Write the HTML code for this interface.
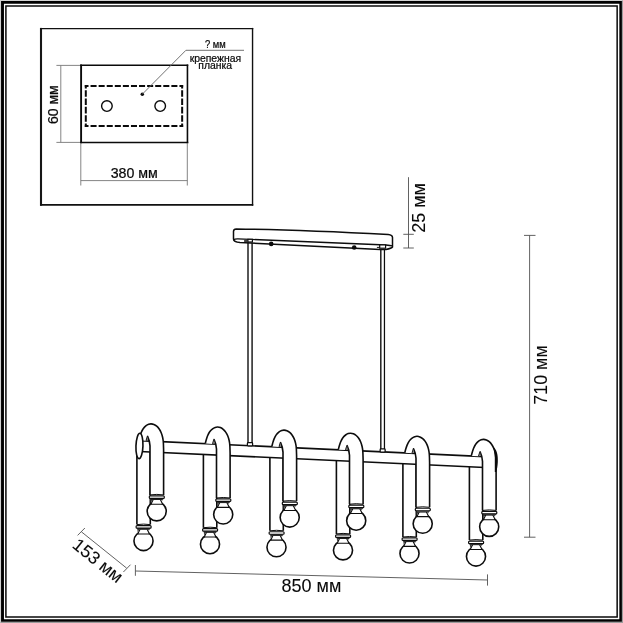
<!DOCTYPE html>
<html lang="ru"><head><meta charset="utf-8"><title>Схема светильника</title>
<style>
html,body{margin:0;padding:0;background:#fff;}
body{width:623px;height:623px;overflow:hidden;}
svg{display:block;will-change:transform;transform:translateZ(0);}
svg text{font-family:"Liberation Sans",sans-serif;fill:#0a0a0a;stroke:#0a0a0a;stroke-width:0.08px;}
svg text.s{stroke-width:0.22px;}
</style></head><body>
<svg width="623" height="623" viewBox="0 0 623 623">
<rect x="0" y="0" width="623" height="623" fill="#fff"/>
<path d="M0,0 H623 V1.1 H1.1 V623 H0 Z" fill="#d2d2d2"/>
<path d="M623,623 H0.5 V621.8 H621.9 V0.5 H623 Z" fill="#9c9c9c"/>
<path d="M1.05,1.05 H621.9 V621.85 H1.05 Z M3.95,3.85 V619.2 H619.35 V3.85 Z" fill="#000" fill-rule="evenodd"/>
<path d="M5.15,5.15 H617.9 V617.75 H5.15 Z M6.65,6.65 V616.35 H616.4 V6.65 Z" fill="#0a0a0a" fill-rule="evenodd"/>
<path d="M41,27.9 V205.7" stroke="#161616" stroke-width="2.1" fill="none"/>
<path d="M40,28.55 H253.25" stroke="#111" stroke-width="1.25" fill="none"/>
<path d="M252.55,27.9 V205.7" stroke="#111" stroke-width="1.4" fill="none"/>
<path d="M40,204.9 H253.25" stroke="#111" stroke-width="1.6" fill="none"/>
<path d="M81.1,64.5 V143.25" stroke="#0a0a0a" stroke-width="1.9" fill="none"/>
<path d="M80.15,65.2 H188.25" stroke="#0a0a0a" stroke-width="1.4" fill="none"/>
<path d="M187.45,64.5 V143.25" stroke="#0a0a0a" stroke-width="1.6" fill="none"/>
<path d="M80.15,142.55 H188.25" stroke="#0a0a0a" stroke-width="1.4" fill="none"/>
<path d="M84.80,86.00 L183.15,86.00" stroke="#0a0a0a" stroke-width="2.0" fill="none" stroke-dasharray="6.032 2.050" stroke-dashoffset="2.332"/>
<path d="M84.80,125.90 L183.15,125.90" stroke="#0a0a0a" stroke-width="2.0" fill="none" stroke-dasharray="6.032 2.050" stroke-dashoffset="2.332"/>
<path d="M85.80,85.00 L85.80,126.90" stroke="#0a0a0a" stroke-width="2.0" fill="none" stroke-dasharray="6.525 1.800" stroke-dashoffset="3.125"/>
<path d="M182.15,85.00 L182.15,126.90" stroke="#0a0a0a" stroke-width="2.0" fill="none" stroke-dasharray="6.525 1.800" stroke-dashoffset="3.125"/>
<circle cx="106.9" cy="106.1" r="5.3" fill="#fff" stroke="#0a0a0a" stroke-width="1.4"/>
<circle cx="160.2" cy="106.1" r="5.3" fill="#fff" stroke="#0a0a0a" stroke-width="1.4"/>
<circle cx="142.3" cy="94.2" r="1.75" fill="#0a0a0a"/>
<path d="M142.3,94.2 L185.9,50.3 L244,50.3" fill="none" stroke="#6a6a6a" stroke-width="0.95"/>
<path d="M60.8,65.4 V142.4 M56.4,65.4 H80 M56.4,142.4 H80" fill="none" stroke="#777" stroke-width="0.9"/>
<path d="M80.8,143 V185.5 M187.3,143 V185.5 M80.8,180.6 H187.3" fill="none" stroke="#777" stroke-width="0.9"/>
<text x="134.2" y="177.6" font-size="14.2" class="s" text-anchor="middle">380 мм</text>
<text transform="translate(58.4,104.7) rotate(-90)" font-size="14" class="s" text-anchor="middle">60 мм</text>
<text transform="translate(215.4,47.9) scale(0.94,1.06)" font-size="10" class="s" text-anchor="middle">? мм</text>
<text x="215.4" y="61.8" font-size="10.4" class="s" text-anchor="middle">крепежная</text>
<text x="215.2" y="68.6" font-size="10.4" class="s" text-anchor="middle">планка</text>
<path d="M248,241 V445 M252.1,241 V445" stroke="#2e2e2e" stroke-width="1.6" fill="none"/>
<path d="M380.8,248 V451.5" stroke="#202020" stroke-width="1.5" fill="none"/>
<path d="M384.45,248 V451.5" stroke="#0c0c0c" stroke-width="1.25" fill="none"/>
<path d="M236.2,228.9 Q300,229.7 388.2,234.5 Q392.5,234.9 392.5,237.6 L392.5,247.0 Q391.6,248.4 386.0,249.4 L380,249.4 L240,242.5 Q233.5,242.0 233.5,239.0 L233.5,231.4 Q233.6,228.9 236.2,228.9 Z" fill="#fff" stroke="#0d0d0d" stroke-width="1.5" stroke-linejoin="round"/>
<path d="M233.6,239.6 Q235,238.8 238,238.9 L386,245.0 Q390.5,245.4 392.4,245.9" fill="none" stroke="#0d0d0d" stroke-width="1.4"/>
<circle cx="271.2" cy="243.9" r="2.3" fill="#0a0a0a"/>
<circle cx="354.2" cy="247.5" r="2.3" fill="#0a0a0a"/>
<rect x="247.9" y="239.3" width="4.5" height="2.7" fill="#fff" stroke="#0d0d0d" stroke-width="1.2"/>
<path d="M244.1,241.0 H247.6" stroke="#111" stroke-width="1.6"/>
<rect x="379.7" y="244.9" width="5.9" height="3.3" fill="#fff" stroke="#0d0d0d" stroke-width="1.2"/>
<path d="M376.9,247.4 H379.6" stroke="#111" stroke-width="1.0"/>
<g transform="translate(163.60,441.70)"><path d="M-26.70,0 V82.90 H-13.30 V0 Z" fill="#fff" stroke="none"/><path d="M-26.70,0 V82.90 M-13.30,0 V82.90" fill="none" stroke="#0d0d0d" stroke-width="1.60"/><path d="M-26.70,82.90 Q-20.00,81.90 -13.30,82.90" fill="none" stroke="#0d0d0d" stroke-width="1.0"/><circle cx="-20.10" cy="99.35" r="9.55" fill="#fff" stroke="#0d0d0d" stroke-width="1.60"/><path d="M-23.40,87.20 L-16.60,87.20 L-14.10,92.25 L-25.90,92.25 Z" fill="#fff" stroke="#0d0d0d" stroke-width="1.1" stroke-linejoin="round"/><path d="M-26.30,87.40 L-24.10,87.40 L-25.90,91.30 Z" fill="#4a4a4a"/><path d="M-14.00,87.40 L-15.90,87.40 L-14.70,89.30 Z" fill="#808080"/><rect x="-26.20" y="86.50" width="12.4" height="1.0" rx="0.3" fill="#fff" stroke="#0d0d0d" stroke-width="0.9"/><rect x="-27.50" y="83.85" width="15.0" height="2.5" rx="0.9" fill="#fff" stroke="#0d0d0d" stroke-width="1.2"/></g>
<g transform="translate(230.10,444.80)"><path d="M-26.70,0 V82.90 H-13.30 V0 Z" fill="#fff" stroke="none"/><path d="M-26.70,0 V82.90 M-13.30,0 V82.90" fill="none" stroke="#0d0d0d" stroke-width="1.60"/><path d="M-26.70,82.90 Q-20.00,81.90 -13.30,82.90" fill="none" stroke="#0d0d0d" stroke-width="1.0"/><circle cx="-20.10" cy="99.35" r="9.55" fill="#fff" stroke="#0d0d0d" stroke-width="1.60"/><path d="M-23.40,87.20 L-16.60,87.20 L-14.10,92.25 L-25.90,92.25 Z" fill="#fff" stroke="#0d0d0d" stroke-width="1.1" stroke-linejoin="round"/><path d="M-26.30,87.40 L-24.10,87.40 L-25.90,91.30 Z" fill="#4a4a4a"/><path d="M-14.00,87.40 L-15.90,87.40 L-14.70,89.30 Z" fill="#808080"/><rect x="-26.20" y="86.50" width="12.4" height="1.0" rx="0.3" fill="#fff" stroke="#0d0d0d" stroke-width="0.9"/><rect x="-27.50" y="83.85" width="15.0" height="2.5" rx="0.9" fill="#fff" stroke="#0d0d0d" stroke-width="1.2"/></g>
<g transform="translate(296.60,447.90)"><path d="M-26.70,0 V82.90 H-13.30 V0 Z" fill="#fff" stroke="none"/><path d="M-26.70,0 V82.90 M-13.30,0 V82.90" fill="none" stroke="#0d0d0d" stroke-width="1.60"/><path d="M-26.70,82.90 Q-20.00,81.90 -13.30,82.90" fill="none" stroke="#0d0d0d" stroke-width="1.0"/><circle cx="-20.10" cy="99.35" r="9.55" fill="#fff" stroke="#0d0d0d" stroke-width="1.60"/><path d="M-23.40,87.20 L-16.60,87.20 L-14.10,92.25 L-25.90,92.25 Z" fill="#fff" stroke="#0d0d0d" stroke-width="1.1" stroke-linejoin="round"/><path d="M-26.30,87.40 L-24.10,87.40 L-25.90,91.30 Z" fill="#4a4a4a"/><path d="M-14.00,87.40 L-15.90,87.40 L-14.70,89.30 Z" fill="#808080"/><rect x="-26.20" y="86.50" width="12.4" height="1.0" rx="0.3" fill="#fff" stroke="#0d0d0d" stroke-width="0.9"/><rect x="-27.50" y="83.85" width="15.0" height="2.5" rx="0.9" fill="#fff" stroke="#0d0d0d" stroke-width="1.2"/></g>
<g transform="translate(363.10,451.00)"><path d="M-26.70,0 V82.90 H-13.30 V0 Z" fill="#fff" stroke="none"/><path d="M-26.70,0 V82.90 M-13.30,0 V82.90" fill="none" stroke="#0d0d0d" stroke-width="1.60"/><path d="M-26.70,82.90 Q-20.00,81.90 -13.30,82.90" fill="none" stroke="#0d0d0d" stroke-width="1.0"/><circle cx="-20.10" cy="99.35" r="9.55" fill="#fff" stroke="#0d0d0d" stroke-width="1.60"/><path d="M-23.40,87.20 L-16.60,87.20 L-14.10,92.25 L-25.90,92.25 Z" fill="#fff" stroke="#0d0d0d" stroke-width="1.1" stroke-linejoin="round"/><path d="M-26.30,87.40 L-24.10,87.40 L-25.90,91.30 Z" fill="#4a4a4a"/><path d="M-14.00,87.40 L-15.90,87.40 L-14.70,89.30 Z" fill="#808080"/><rect x="-26.20" y="86.50" width="12.4" height="1.0" rx="0.3" fill="#fff" stroke="#0d0d0d" stroke-width="0.9"/><rect x="-27.50" y="83.85" width="15.0" height="2.5" rx="0.9" fill="#fff" stroke="#0d0d0d" stroke-width="1.2"/></g>
<g transform="translate(429.60,454.10)"><path d="M-26.70,0 V82.90 H-13.30 V0 Z" fill="#fff" stroke="none"/><path d="M-26.70,0 V82.90 M-13.30,0 V82.90" fill="none" stroke="#0d0d0d" stroke-width="1.60"/><path d="M-26.70,82.90 Q-20.00,81.90 -13.30,82.90" fill="none" stroke="#0d0d0d" stroke-width="1.0"/><circle cx="-20.10" cy="99.35" r="9.55" fill="#fff" stroke="#0d0d0d" stroke-width="1.60"/><path d="M-23.40,87.20 L-16.60,87.20 L-14.10,92.25 L-25.90,92.25 Z" fill="#fff" stroke="#0d0d0d" stroke-width="1.1" stroke-linejoin="round"/><path d="M-26.30,87.40 L-24.10,87.40 L-25.90,91.30 Z" fill="#4a4a4a"/><path d="M-14.00,87.40 L-15.90,87.40 L-14.70,89.30 Z" fill="#808080"/><rect x="-26.20" y="86.50" width="12.4" height="1.0" rx="0.3" fill="#fff" stroke="#0d0d0d" stroke-width="0.9"/><rect x="-27.50" y="83.85" width="15.0" height="2.5" rx="0.9" fill="#fff" stroke="#0d0d0d" stroke-width="1.2"/></g>
<g transform="translate(496.10,457.20)"><path d="M-26.70,0 V82.90 H-13.30 V0 Z" fill="#fff" stroke="none"/><path d="M-26.70,0 V82.90 M-13.30,0 V82.90" fill="none" stroke="#0d0d0d" stroke-width="1.60"/><path d="M-26.70,82.90 Q-20.00,81.90 -13.30,82.90" fill="none" stroke="#0d0d0d" stroke-width="1.0"/><circle cx="-20.10" cy="99.35" r="9.55" fill="#fff" stroke="#0d0d0d" stroke-width="1.60"/><path d="M-23.40,87.20 L-16.60,87.20 L-14.10,92.25 L-25.90,92.25 Z" fill="#fff" stroke="#0d0d0d" stroke-width="1.1" stroke-linejoin="round"/><path d="M-26.30,87.40 L-24.10,87.40 L-25.90,91.30 Z" fill="#4a4a4a"/><path d="M-14.00,87.40 L-15.90,87.40 L-14.70,89.30 Z" fill="#808080"/><rect x="-26.20" y="86.50" width="12.4" height="1.0" rx="0.3" fill="#fff" stroke="#0d0d0d" stroke-width="0.9"/><rect x="-27.50" y="83.85" width="15.0" height="2.5" rx="0.9" fill="#fff" stroke="#0d0d0d" stroke-width="1.2"/></g>
<path d="M139.50,440.58 L495.50,457.17 L495.50,468.07 L139.50,451.48 Z" fill="#fff" stroke="none"/><path d="M139.50,440.58 L495.50,457.17 M139.50,451.48 L495.50,468.07" fill="none" stroke="#0d0d0d" stroke-width="1.60"/>
<rect x="247.4" y="442.7" width="5.2" height="3.2" rx="0.8" fill="#fff" stroke="#0d0d0d" stroke-width="1.25"/>
<rect x="380.15" y="448.9" width="5.0" height="3.2" rx="0.8" fill="#fff" stroke="#0d0d0d" stroke-width="1.25"/>
<g transform="translate(163.60,441.70)"><path d="M-24.80,-1.30 C-24.67,-1.83 -24.38,-3.22 -24.00,-4.50 C-23.62,-5.78 -23.10,-7.58 -22.50,-9.00 C-21.90,-10.42 -21.23,-11.83 -20.40,-13.00 C-19.57,-14.17 -18.42,-15.27 -17.50,-16.00 C-16.58,-16.73 -15.73,-17.10 -14.90,-17.40 C-14.07,-17.70 -13.37,-17.83 -12.50,-17.80 C-11.63,-17.77 -10.63,-17.58 -9.70,-17.20 C-8.77,-16.82 -7.78,-16.25 -6.90,-15.50 C-6.02,-14.75 -5.15,-13.78 -4.40,-12.70 C-3.65,-11.62 -2.97,-10.37 -2.40,-9.00 C-1.83,-7.63 -1.35,-6.02 -1.00,-4.50 C-0.65,-2.98 -0.47,-1.98 -0.30,0.10 C-0.13,2.18 -0.05,6.68 0.00,8.00 L0,53.20 Q-6.80,52.20 -13.60,53.20 L-13.60,4.2 C-13.80,0 -14.9,-3 -16.0,-5.3 L-17.3,-0.9 Z" fill="#fff" stroke="none"/><path d="M-24.80,-1.30 C-24.67,-1.83 -24.38,-3.22 -24.00,-4.50 C-23.62,-5.78 -23.10,-7.58 -22.50,-9.00 C-21.90,-10.42 -21.23,-11.83 -20.40,-13.00 C-19.57,-14.17 -18.42,-15.27 -17.50,-16.00 C-16.58,-16.73 -15.73,-17.10 -14.90,-17.40 C-14.07,-17.70 -13.37,-17.83 -12.50,-17.80 C-11.63,-17.77 -10.63,-17.58 -9.70,-17.20 C-8.77,-16.82 -7.78,-16.25 -6.90,-15.50 C-6.02,-14.75 -5.15,-13.78 -4.40,-12.70 C-3.65,-11.62 -2.97,-10.37 -2.40,-9.00 C-1.83,-7.63 -1.35,-6.02 -1.00,-4.50 C-0.65,-2.98 -0.47,-1.98 -0.30,0.10 C-0.13,2.18 -0.05,6.68 0.00,8.00 L0,53.20 M-13.60,53.20 L-13.60,4.2 C-13.80,0 -14.9,-3 -16.0,-5.3 L-17.3,-0.9" fill="none" stroke="#0d0d0d" stroke-width="1.60" stroke-linejoin="round"/><path d="M0,53.20 Q-6.80,52.20 -13.60,53.20" fill="none" stroke="#0d0d0d" stroke-width="1.0"/><path d="M-17.2,-1.0 L-16.0,-5.2 L-15.6,-1.2 Z" fill="#8a8a8a"/><circle cx="-6.90" cy="69.65" r="9.55" fill="#fff" stroke="#0d0d0d" stroke-width="1.60"/><path d="M-10.20,57.50 L-3.40,57.50 L-0.90,62.55 L-12.70,62.55 Z" fill="#fff" stroke="#0d0d0d" stroke-width="1.1" stroke-linejoin="round"/><path d="M-13.10,57.70 L-10.90,57.70 L-12.70,61.60 Z" fill="#4a4a4a"/><path d="M-0.80,57.70 L-2.70,57.70 L-1.50,59.60 Z" fill="#808080"/><rect x="-13.00" y="56.80" width="12.4" height="1.0" rx="0.3" fill="#fff" stroke="#0d0d0d" stroke-width="0.9"/><rect x="-14.30" y="54.15" width="15.0" height="2.5" rx="0.9" fill="#fff" stroke="#0d0d0d" stroke-width="1.2"/></g>
<g transform="translate(230.10,444.80)"><path d="M-24.80,-1.30 C-24.67,-1.83 -24.38,-3.22 -24.00,-4.50 C-23.62,-5.78 -23.10,-7.58 -22.50,-9.00 C-21.90,-10.42 -21.23,-11.83 -20.40,-13.00 C-19.57,-14.17 -18.42,-15.27 -17.50,-16.00 C-16.58,-16.73 -15.73,-17.10 -14.90,-17.40 C-14.07,-17.70 -13.37,-17.83 -12.50,-17.80 C-11.63,-17.77 -10.63,-17.58 -9.70,-17.20 C-8.77,-16.82 -7.78,-16.25 -6.90,-15.50 C-6.02,-14.75 -5.15,-13.78 -4.40,-12.70 C-3.65,-11.62 -2.97,-10.37 -2.40,-9.00 C-1.83,-7.63 -1.35,-6.02 -1.00,-4.50 C-0.65,-2.98 -0.47,-1.98 -0.30,0.10 C-0.13,2.18 -0.05,6.68 0.00,8.00 L0,53.20 Q-6.80,52.20 -13.60,53.20 L-13.60,4.2 C-13.80,0 -14.9,-3 -16.0,-5.3 L-17.3,-0.9 Z" fill="#fff" stroke="none"/><path d="M-24.80,-1.30 C-24.67,-1.83 -24.38,-3.22 -24.00,-4.50 C-23.62,-5.78 -23.10,-7.58 -22.50,-9.00 C-21.90,-10.42 -21.23,-11.83 -20.40,-13.00 C-19.57,-14.17 -18.42,-15.27 -17.50,-16.00 C-16.58,-16.73 -15.73,-17.10 -14.90,-17.40 C-14.07,-17.70 -13.37,-17.83 -12.50,-17.80 C-11.63,-17.77 -10.63,-17.58 -9.70,-17.20 C-8.77,-16.82 -7.78,-16.25 -6.90,-15.50 C-6.02,-14.75 -5.15,-13.78 -4.40,-12.70 C-3.65,-11.62 -2.97,-10.37 -2.40,-9.00 C-1.83,-7.63 -1.35,-6.02 -1.00,-4.50 C-0.65,-2.98 -0.47,-1.98 -0.30,0.10 C-0.13,2.18 -0.05,6.68 0.00,8.00 L0,53.20 M-13.60,53.20 L-13.60,4.2 C-13.80,0 -14.9,-3 -16.0,-5.3 L-17.3,-0.9" fill="none" stroke="#0d0d0d" stroke-width="1.60" stroke-linejoin="round"/><path d="M0,53.20 Q-6.80,52.20 -13.60,53.20" fill="none" stroke="#0d0d0d" stroke-width="1.0"/><path d="M-17.2,-1.0 L-16.0,-5.2 L-15.6,-1.2 Z" fill="#8a8a8a"/><circle cx="-6.90" cy="69.65" r="9.55" fill="#fff" stroke="#0d0d0d" stroke-width="1.60"/><path d="M-10.20,57.50 L-3.40,57.50 L-0.90,62.55 L-12.70,62.55 Z" fill="#fff" stroke="#0d0d0d" stroke-width="1.1" stroke-linejoin="round"/><path d="M-13.10,57.70 L-10.90,57.70 L-12.70,61.60 Z" fill="#4a4a4a"/><path d="M-0.80,57.70 L-2.70,57.70 L-1.50,59.60 Z" fill="#808080"/><rect x="-13.00" y="56.80" width="12.4" height="1.0" rx="0.3" fill="#fff" stroke="#0d0d0d" stroke-width="0.9"/><rect x="-14.30" y="54.15" width="15.0" height="2.5" rx="0.9" fill="#fff" stroke="#0d0d0d" stroke-width="1.2"/></g>
<g transform="translate(296.60,447.90)"><path d="M-24.80,-1.30 C-24.67,-1.83 -24.38,-3.22 -24.00,-4.50 C-23.62,-5.78 -23.10,-7.58 -22.50,-9.00 C-21.90,-10.42 -21.23,-11.83 -20.40,-13.00 C-19.57,-14.17 -18.42,-15.27 -17.50,-16.00 C-16.58,-16.73 -15.73,-17.10 -14.90,-17.40 C-14.07,-17.70 -13.37,-17.83 -12.50,-17.80 C-11.63,-17.77 -10.63,-17.58 -9.70,-17.20 C-8.77,-16.82 -7.78,-16.25 -6.90,-15.50 C-6.02,-14.75 -5.15,-13.78 -4.40,-12.70 C-3.65,-11.62 -2.97,-10.37 -2.40,-9.00 C-1.83,-7.63 -1.35,-6.02 -1.00,-4.50 C-0.65,-2.98 -0.47,-1.98 -0.30,0.10 C-0.13,2.18 -0.05,6.68 0.00,8.00 L0,53.20 Q-6.80,52.20 -13.60,53.20 L-13.60,4.2 C-13.80,0 -14.9,-3 -16.0,-5.3 L-17.3,-0.9 Z" fill="#fff" stroke="none"/><path d="M-24.80,-1.30 C-24.67,-1.83 -24.38,-3.22 -24.00,-4.50 C-23.62,-5.78 -23.10,-7.58 -22.50,-9.00 C-21.90,-10.42 -21.23,-11.83 -20.40,-13.00 C-19.57,-14.17 -18.42,-15.27 -17.50,-16.00 C-16.58,-16.73 -15.73,-17.10 -14.90,-17.40 C-14.07,-17.70 -13.37,-17.83 -12.50,-17.80 C-11.63,-17.77 -10.63,-17.58 -9.70,-17.20 C-8.77,-16.82 -7.78,-16.25 -6.90,-15.50 C-6.02,-14.75 -5.15,-13.78 -4.40,-12.70 C-3.65,-11.62 -2.97,-10.37 -2.40,-9.00 C-1.83,-7.63 -1.35,-6.02 -1.00,-4.50 C-0.65,-2.98 -0.47,-1.98 -0.30,0.10 C-0.13,2.18 -0.05,6.68 0.00,8.00 L0,53.20 M-13.60,53.20 L-13.60,4.2 C-13.80,0 -14.9,-3 -16.0,-5.3 L-17.3,-0.9" fill="none" stroke="#0d0d0d" stroke-width="1.60" stroke-linejoin="round"/><path d="M0,53.20 Q-6.80,52.20 -13.60,53.20" fill="none" stroke="#0d0d0d" stroke-width="1.0"/><path d="M-17.2,-1.0 L-16.0,-5.2 L-15.6,-1.2 Z" fill="#8a8a8a"/><circle cx="-6.90" cy="69.65" r="9.55" fill="#fff" stroke="#0d0d0d" stroke-width="1.60"/><path d="M-10.20,57.50 L-3.40,57.50 L-0.90,62.55 L-12.70,62.55 Z" fill="#fff" stroke="#0d0d0d" stroke-width="1.1" stroke-linejoin="round"/><path d="M-13.10,57.70 L-10.90,57.70 L-12.70,61.60 Z" fill="#4a4a4a"/><path d="M-0.80,57.70 L-2.70,57.70 L-1.50,59.60 Z" fill="#808080"/><rect x="-13.00" y="56.80" width="12.4" height="1.0" rx="0.3" fill="#fff" stroke="#0d0d0d" stroke-width="0.9"/><rect x="-14.30" y="54.15" width="15.0" height="2.5" rx="0.9" fill="#fff" stroke="#0d0d0d" stroke-width="1.2"/></g>
<g transform="translate(363.10,451.00)"><path d="M-24.80,-1.30 C-24.67,-1.83 -24.38,-3.22 -24.00,-4.50 C-23.62,-5.78 -23.10,-7.58 -22.50,-9.00 C-21.90,-10.42 -21.23,-11.83 -20.40,-13.00 C-19.57,-14.17 -18.42,-15.27 -17.50,-16.00 C-16.58,-16.73 -15.73,-17.10 -14.90,-17.40 C-14.07,-17.70 -13.37,-17.83 -12.50,-17.80 C-11.63,-17.77 -10.63,-17.58 -9.70,-17.20 C-8.77,-16.82 -7.78,-16.25 -6.90,-15.50 C-6.02,-14.75 -5.15,-13.78 -4.40,-12.70 C-3.65,-11.62 -2.97,-10.37 -2.40,-9.00 C-1.83,-7.63 -1.35,-6.02 -1.00,-4.50 C-0.65,-2.98 -0.47,-1.98 -0.30,0.10 C-0.13,2.18 -0.05,6.68 0.00,8.00 L0,53.20 Q-6.80,52.20 -13.60,53.20 L-13.60,4.2 C-13.80,0 -14.9,-3 -16.0,-5.3 L-17.3,-0.9 Z" fill="#fff" stroke="none"/><path d="M-24.80,-1.30 C-24.67,-1.83 -24.38,-3.22 -24.00,-4.50 C-23.62,-5.78 -23.10,-7.58 -22.50,-9.00 C-21.90,-10.42 -21.23,-11.83 -20.40,-13.00 C-19.57,-14.17 -18.42,-15.27 -17.50,-16.00 C-16.58,-16.73 -15.73,-17.10 -14.90,-17.40 C-14.07,-17.70 -13.37,-17.83 -12.50,-17.80 C-11.63,-17.77 -10.63,-17.58 -9.70,-17.20 C-8.77,-16.82 -7.78,-16.25 -6.90,-15.50 C-6.02,-14.75 -5.15,-13.78 -4.40,-12.70 C-3.65,-11.62 -2.97,-10.37 -2.40,-9.00 C-1.83,-7.63 -1.35,-6.02 -1.00,-4.50 C-0.65,-2.98 -0.47,-1.98 -0.30,0.10 C-0.13,2.18 -0.05,6.68 0.00,8.00 L0,53.20 M-13.60,53.20 L-13.60,4.2 C-13.80,0 -14.9,-3 -16.0,-5.3 L-17.3,-0.9" fill="none" stroke="#0d0d0d" stroke-width="1.60" stroke-linejoin="round"/><path d="M0,53.20 Q-6.80,52.20 -13.60,53.20" fill="none" stroke="#0d0d0d" stroke-width="1.0"/><path d="M-17.2,-1.0 L-16.0,-5.2 L-15.6,-1.2 Z" fill="#8a8a8a"/><circle cx="-6.90" cy="69.65" r="9.55" fill="#fff" stroke="#0d0d0d" stroke-width="1.60"/><path d="M-10.20,57.50 L-3.40,57.50 L-0.90,62.55 L-12.70,62.55 Z" fill="#fff" stroke="#0d0d0d" stroke-width="1.1" stroke-linejoin="round"/><path d="M-13.10,57.70 L-10.90,57.70 L-12.70,61.60 Z" fill="#4a4a4a"/><path d="M-0.80,57.70 L-2.70,57.70 L-1.50,59.60 Z" fill="#808080"/><rect x="-13.00" y="56.80" width="12.4" height="1.0" rx="0.3" fill="#fff" stroke="#0d0d0d" stroke-width="0.9"/><rect x="-14.30" y="54.15" width="15.0" height="2.5" rx="0.9" fill="#fff" stroke="#0d0d0d" stroke-width="1.2"/></g>
<g transform="translate(429.60,454.10)"><path d="M-24.80,-1.30 C-24.67,-1.83 -24.38,-3.22 -24.00,-4.50 C-23.62,-5.78 -23.10,-7.58 -22.50,-9.00 C-21.90,-10.42 -21.23,-11.83 -20.40,-13.00 C-19.57,-14.17 -18.42,-15.27 -17.50,-16.00 C-16.58,-16.73 -15.73,-17.10 -14.90,-17.40 C-14.07,-17.70 -13.37,-17.83 -12.50,-17.80 C-11.63,-17.77 -10.63,-17.58 -9.70,-17.20 C-8.77,-16.82 -7.78,-16.25 -6.90,-15.50 C-6.02,-14.75 -5.15,-13.78 -4.40,-12.70 C-3.65,-11.62 -2.97,-10.37 -2.40,-9.00 C-1.83,-7.63 -1.35,-6.02 -1.00,-4.50 C-0.65,-2.98 -0.47,-1.98 -0.30,0.10 C-0.13,2.18 -0.05,6.68 0.00,8.00 L0,53.20 Q-6.80,52.20 -13.60,53.20 L-13.60,4.2 C-13.80,0 -14.9,-3 -16.0,-5.3 L-17.3,-0.9 Z" fill="#fff" stroke="none"/><path d="M-24.80,-1.30 C-24.67,-1.83 -24.38,-3.22 -24.00,-4.50 C-23.62,-5.78 -23.10,-7.58 -22.50,-9.00 C-21.90,-10.42 -21.23,-11.83 -20.40,-13.00 C-19.57,-14.17 -18.42,-15.27 -17.50,-16.00 C-16.58,-16.73 -15.73,-17.10 -14.90,-17.40 C-14.07,-17.70 -13.37,-17.83 -12.50,-17.80 C-11.63,-17.77 -10.63,-17.58 -9.70,-17.20 C-8.77,-16.82 -7.78,-16.25 -6.90,-15.50 C-6.02,-14.75 -5.15,-13.78 -4.40,-12.70 C-3.65,-11.62 -2.97,-10.37 -2.40,-9.00 C-1.83,-7.63 -1.35,-6.02 -1.00,-4.50 C-0.65,-2.98 -0.47,-1.98 -0.30,0.10 C-0.13,2.18 -0.05,6.68 0.00,8.00 L0,53.20 M-13.60,53.20 L-13.60,4.2 C-13.80,0 -14.9,-3 -16.0,-5.3 L-17.3,-0.9" fill="none" stroke="#0d0d0d" stroke-width="1.60" stroke-linejoin="round"/><path d="M0,53.20 Q-6.80,52.20 -13.60,53.20" fill="none" stroke="#0d0d0d" stroke-width="1.0"/><path d="M-17.2,-1.0 L-16.0,-5.2 L-15.6,-1.2 Z" fill="#8a8a8a"/><circle cx="-6.90" cy="69.65" r="9.55" fill="#fff" stroke="#0d0d0d" stroke-width="1.60"/><path d="M-10.20,57.50 L-3.40,57.50 L-0.90,62.55 L-12.70,62.55 Z" fill="#fff" stroke="#0d0d0d" stroke-width="1.1" stroke-linejoin="round"/><path d="M-13.10,57.70 L-10.90,57.70 L-12.70,61.60 Z" fill="#4a4a4a"/><path d="M-0.80,57.70 L-2.70,57.70 L-1.50,59.60 Z" fill="#808080"/><rect x="-13.00" y="56.80" width="12.4" height="1.0" rx="0.3" fill="#fff" stroke="#0d0d0d" stroke-width="0.9"/><rect x="-14.30" y="54.15" width="15.0" height="2.5" rx="0.9" fill="#fff" stroke="#0d0d0d" stroke-width="1.2"/></g>
<g transform="translate(496.10,457.20)"><path d="M-24.80,-1.30 C-24.67,-1.83 -24.38,-3.22 -24.00,-4.50 C-23.62,-5.78 -23.10,-7.58 -22.50,-9.00 C-21.90,-10.42 -21.23,-11.83 -20.40,-13.00 C-19.57,-14.17 -18.42,-15.27 -17.50,-16.00 C-16.58,-16.73 -15.73,-17.10 -14.90,-17.40 C-14.07,-17.70 -13.37,-17.83 -12.50,-17.80 C-11.63,-17.77 -10.63,-17.58 -9.70,-17.20 C-8.77,-16.82 -7.78,-16.25 -6.90,-15.50 C-6.02,-14.75 -5.15,-13.78 -4.40,-12.70 C-3.65,-11.62 -2.97,-10.37 -2.40,-9.00 C-1.83,-7.63 -1.35,-6.02 -1.00,-4.50 C-0.65,-2.98 -0.47,-1.98 -0.30,0.10 C-0.13,2.18 -0.05,6.68 0.00,8.00 L0,53.20 Q-6.80,52.20 -13.60,53.20 L-13.60,4.2 C-13.80,0 -14.9,-3 -16.0,-5.3 L-17.3,-0.9 Z" fill="#fff" stroke="none"/><path d="M-24.80,-1.30 C-24.67,-1.83 -24.38,-3.22 -24.00,-4.50 C-23.62,-5.78 -23.10,-7.58 -22.50,-9.00 C-21.90,-10.42 -21.23,-11.83 -20.40,-13.00 C-19.57,-14.17 -18.42,-15.27 -17.50,-16.00 C-16.58,-16.73 -15.73,-17.10 -14.90,-17.40 C-14.07,-17.70 -13.37,-17.83 -12.50,-17.80 C-11.63,-17.77 -10.63,-17.58 -9.70,-17.20 C-8.77,-16.82 -7.78,-16.25 -6.90,-15.50 C-6.02,-14.75 -5.15,-13.78 -4.40,-12.70 C-3.65,-11.62 -2.97,-10.37 -2.40,-9.00 C-1.83,-7.63 -1.35,-6.02 -1.00,-4.50 C-0.65,-2.98 -0.47,-1.98 -0.30,0.10 C-0.13,2.18 -0.05,6.68 0.00,8.00 L0,53.20 M-13.60,53.20 L-13.60,4.2 C-13.80,0 -14.9,-3 -16.0,-5.3 L-17.3,-0.9" fill="none" stroke="#0d0d0d" stroke-width="1.60" stroke-linejoin="round"/><path d="M0,53.20 Q-6.80,52.20 -13.60,53.20" fill="none" stroke="#0d0d0d" stroke-width="1.0"/><path d="M-17.2,-1.0 L-16.0,-5.2 L-15.6,-1.2 Z" fill="#8a8a8a"/><circle cx="-6.90" cy="69.65" r="9.55" fill="#fff" stroke="#0d0d0d" stroke-width="1.60"/><path d="M-10.20,57.50 L-3.40,57.50 L-0.90,62.55 L-12.70,62.55 Z" fill="#fff" stroke="#0d0d0d" stroke-width="1.1" stroke-linejoin="round"/><path d="M-13.10,57.70 L-10.90,57.70 L-12.70,61.60 Z" fill="#4a4a4a"/><path d="M-0.80,57.70 L-2.70,57.70 L-1.50,59.60 Z" fill="#808080"/><rect x="-13.00" y="56.80" width="12.4" height="1.0" rx="0.3" fill="#fff" stroke="#0d0d0d" stroke-width="0.9"/><rect x="-14.30" y="54.15" width="15.0" height="2.5" rx="0.9" fill="#fff" stroke="#0d0d0d" stroke-width="1.2"/></g>
<ellipse cx="139.45" cy="446.0" rx="3.5" ry="12.7" transform="rotate(2 139.45 446)" fill="#fff" stroke="#0d0d0d" stroke-width="1.6"/>
<path d="M493.0,446.6 C496.8,449.5 498.2,455 497.8,462 C497.6,466.5 497,469.5 496.2,472 L494.8,472 L494.8,458 C494.8,453 494.1,449.8 493.0,446.6 Z" fill="#0a0a0a"/>
<path d="M408.5,177.2 V248 M403.3,234.3 H413.8 M403.3,248 H413.8" fill="none" stroke="#505050" stroke-width="0.9"/>
<text transform="translate(425.2,207.9) rotate(-90)" font-size="18" text-anchor="middle">25 мм</text>
<path d="M529.6,235.4 V537.2 M524,235.4 H535.5 M524,537.2 H535.5" fill="none" stroke="#505050" stroke-width="0.9"/>
<text transform="translate(547,375) rotate(-90)" font-size="17.9" text-anchor="middle">710 мм</text>
<path d="M135.4,571 L487.5,580 M135.4,565 V575.8 M487.5,574.4 V585.6" fill="none" stroke="#505050" stroke-width="0.9"/>
<text x="311.4" y="591.8" font-size="18" text-anchor="middle">850 мм</text>
<path d="M81.4,531.8 L126.6,568.1 M77.6,535.4 L84.9,528 M123.4,572 L130.5,564.7" fill="none" stroke="#505050" stroke-width="0.9"/>
<text transform="translate(94.15,565.25) rotate(39)" font-size="17.7" text-anchor="middle">153 мм</text>
</svg>
</body></html>
